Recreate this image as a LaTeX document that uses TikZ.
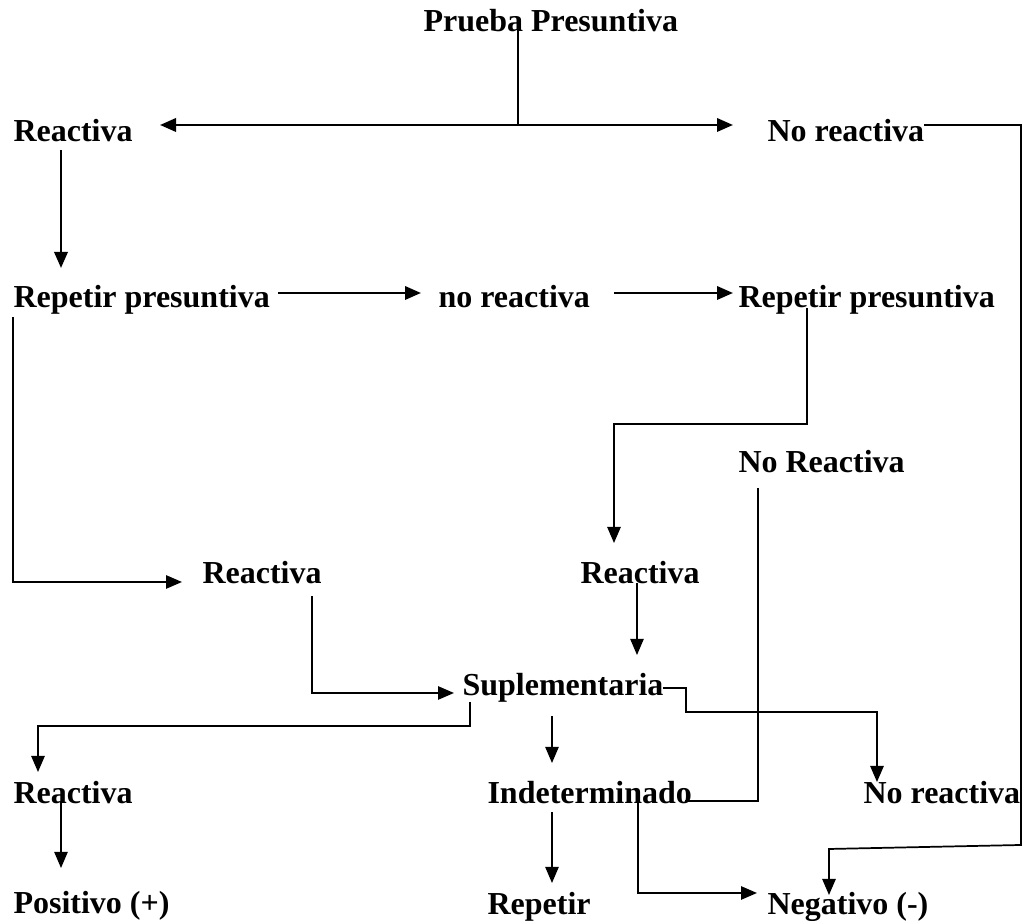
\documentclass[tikz,border=0pt]{standalone}
\usepackage{fontspec}
\setmainfont{Liberation Serif}
\usetikzlibrary{arrows.meta}
\begin{document}
\begin{tikzpicture}[x=0.375pt,y=-0.375pt,
  txt/.style={inner sep=0pt,anchor=base west,font=\fontsize{12pt}{14pt}\selectfont\bfseries},
  ln/.style={line width=0.65pt,line join=miter},
  thn/.style={line width=0.5pt},
  thk/.style={line width=0.9pt},
  arr/.style={-{Triangle[length=6pt,width=5pt]}}]
\useasboundingbox (0,0) rectangle (1024,921);
% text nodes
\node[txt] (pp) at (423,32) {Prueba Presuntiva};
\node[txt] (r1) at (13,142) {Reactiva};
\node[txt] (nr1) at (767,142) {No reactiva};
\node[txt] (rp1) at (13,308) {Repetir presuntiva};
\node[txt] (nr2) at (438,308) {no reactiva};
\node[txt] (rp2) at (738,308) {Repetir presuntiva};
\node[txt] (NR) at (738,473) {No Reactiva};
\node[txt] (r2) at (202,584) {Reactiva};
\node[txt] (r3) at (580,584) {Reactiva};
\node[txt] (sup) at (462,696) {Suplementaria};
\node[txt] (r4) at (13,804) {Reactiva};
\node[txt] (ind) at (487,804) {Indeterminado};
\node[txt] (nr3) at (863,804) {No reactiva};
\node[txt] (pos) at (13,914) {Positivo (+)};
\node[txt] (rep) at (487,915) {Repetir};
\node[txt] (neg) at (767,915) {Negativo (-)};
% connector points
\coordinate (ppA) at (518,20);
\coordinate (ppB) at (518,125);
\coordinate (r1T) at (160,125);
\coordinate (nr1T) at (733,125);
\coordinate (nr1A) at (924,125);
\coordinate (nr1B) at (1021,125);
\coordinate (nr1C) at (1021,845);
\coordinate (nr1D) at (829,849);
\coordinate (negT) at (829,895);
\coordinate (r1A) at (61,150);
\coordinate (rp1T) at (61,268);
\coordinate (rp1A) at (278,293);
\coordinate (nr2T) at (421,293);
\coordinate (nr2A) at (614,293);
\coordinate (rp2T) at (733,293);
\coordinate (rp1B) at (13,317);
\coordinate (rp1C) at (13,582);
\coordinate (r2T) at (182,582);
\coordinate (rp2A) at (807,308);
\coordinate (rp2B) at (807,424);
\coordinate (rp2C) at (614,424);
\coordinate (r3T) at (614,543);
\coordinate (NRA) at (758,488);
\coordinate (NRB) at (758,801);
\coordinate (NRC) at (685,801);
\coordinate (r2A) at (312,596);
\coordinate (r2B) at (312,693);
\coordinate (supT) at (454,693);
\coordinate (r3A) at (637,583);
\coordinate (supT2) at (637,655);
\coordinate (supA) at (663,688);
\coordinate (supB) at (686,688);
\coordinate (supC) at (686,712);
\coordinate (supD) at (877,712);
\coordinate (nr3T) at (877,782);
\coordinate (supE) at (470,702);
\coordinate (supF) at (470,726);
\coordinate (supG) at (38,726);
\coordinate (r4T) at (38,772);
\coordinate (supH) at (552,716);
\coordinate (indT) at (552,763);
\coordinate (r4A) at (61,802);
\coordinate (posT) at (61,868);
\coordinate (indA) at (552,812);
\coordinate (repT) at (552,883);
\coordinate (indB) at (638,802);
\coordinate (indC) at (638,893);
\coordinate (negT2) at (757,893);
% connectors
\draw[thn] (ppA) -- (ppB);
\draw[thk,arr] (ppB) -- (r1T);
\draw[thk,arr] (ppB) -- (nr1T);
\draw[ln,arr] (nr1A) -- (nr1B) -- (nr1C) -- (nr1D) -- (negT);
\draw[thk,arr] (r1A) -- (rp1T);
\draw[thk,arr] (rp1A) -- (nr2T);
\draw[thk,arr] (nr2A) -- (rp2T);
\draw[ln,arr] (rp1B) -- (rp1C) -- (r2T);
\draw[ln,arr] (rp2A) -- (rp2B) -- (rp2C) -- (r3T);
\draw[thn] (NRA) -- (NRB) -- (NRC);
\draw[ln,arr] (r2A) -- (r2B) -- (supT);
\draw[thn,arr] (r3A) -- (supT2);
\draw[ln,arr] (supA) -- (supB) -- (supC) -- (supD) -- (nr3T);
\draw[ln,arr] (supE) -- (supF) -- (supG) -- (r4T);
\draw[thn,arr] (supH) -- (indT);
\draw[thn,arr] (r4A) -- (posT);
\draw[thn,arr] (indA) -- (repT);
\draw[ln,arr] (indB) -- (indC) -- (negT2);
\end{tikzpicture}
\end{document}
